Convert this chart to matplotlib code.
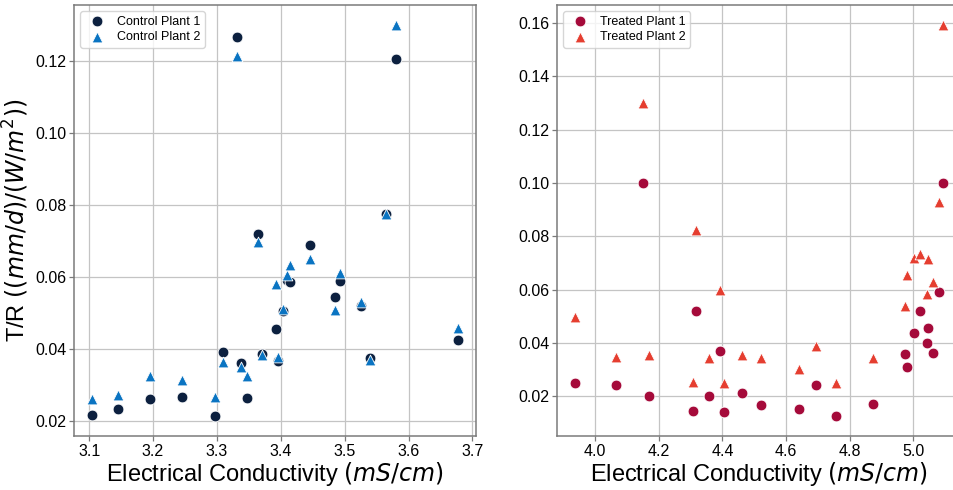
import matplotlib.pyplot as plt

plt.rcParams['font.family'] = ['Liberation Sans', 'DejaVu Sans']
plt.rcParams['mathtext.fontset'] = 'dejavusans'

# control plants share the same EC readings
control_ec = [3.105, 3.145, 3.195, 3.246, 3.297, 3.309, 3.332, 3.337, 3.347, 3.365,
              3.370, 3.392, 3.395, 3.404, 3.410, 3.414, 3.445, 3.485, 3.493, 3.525,
              3.540, 3.565, 3.581, 3.677]
control_1 = [0.0219, 0.0235, 0.0262, 0.0269, 0.0214, 0.0392, 0.1265, 0.0362, 0.0265, 0.0719,
             0.0387, 0.0457, 0.0367, 0.0507, 0.0592, 0.0587, 0.0690, 0.0544, 0.0589, 0.0521,
             0.0375, 0.0774, 0.1206, 0.0426]
control_2 = [0.0262, 0.0272, 0.0325, 0.0316, 0.0268, 0.0365, 0.1212, 0.0350, 0.0325, 0.0697,
             0.0383, 0.0582, 0.0378, 0.0513, 0.0605, 0.0635, 0.0651, 0.0510, 0.0612, 0.0532,
             0.0371, 0.0775, 0.1300, 0.0460]

# treated plants
treated_ec = [3.938, 4.067, 4.150, 4.168, 4.307, 4.317, 4.359, 4.392, 4.405, 4.462,
              4.522, 4.639, 4.695, 4.757, 4.873, 4.975, 4.981, 5.002, 5.021, 5.042,
              5.046, 5.061, 5.081, 5.092]
treated_1 = [0.0250, 0.0241, 0.1000, 0.0203, 0.0145, 0.0521, 0.0203, 0.0372, 0.0140, 0.0213,
             0.0166, 0.0154, 0.0244, 0.0125, 0.0173, 0.0359, 0.0310, 0.0438, 0.0521, 0.0399,
             0.0456, 0.0363, 0.0593, 0.1000]
treated_2 = [0.0498, 0.0346, 0.1300, 0.0357, 0.0253, 0.0825, 0.0343, 0.0600, 0.0250, 0.0355,
             0.0344, 0.0303, 0.0388, 0.0249, 0.0344, 0.0538, 0.0656, 0.0719, 0.0735, 0.0584,
             0.0715, 0.0629, 0.0929, 0.1594]


def style_axes(ax):
    ax.set_axisbelow(True)
    ax.grid(True, color='#c4c4c4', linewidth=0.9)
    for sp in ax.spines.values():
        sp.set_color('#7a7a7a')
        sp.set_linewidth(1.1)
    ax.tick_params(labelsize=11.5, length=3.5, width=0.9, color='#7a7a7a', pad=2)
    ax.set_xlabel('Electrical Conductivity $(mS/cm)$', fontsize=17, labelpad=1)


def add_legend(ax):
    ax.legend(loc='upper left', fontsize=9, frameon=True, borderpad=0.35,
              labelspacing=0.3, handletextpad=0.6)


fig = plt.figure(figsize=(9.54, 4.9), dpi=100)
ax1 = fig.add_axes([0.0776, 0.1102, 0.4214, 0.8796])
ax2 = fig.add_axes([0.5839, 0.1102, 0.4235, 0.8796])

ax1.scatter(control_ec, control_1, s=60, marker='o', color='#0c203f',
            edgecolor='white', linewidth=0.6, label='Control Plant 1')
ax1.scatter(control_ec, control_2, s=60, marker='^', color='#0a74c2',
            edgecolor='white', linewidth=0.6, label='Control Plant 2')
style_axes(ax1)
ax1.set_xticks([3.1, 3.2, 3.3, 3.4, 3.5, 3.6, 3.7])
ax1.set_yticks([0.02, 0.04, 0.06, 0.08, 0.10, 0.12])
ax1.set_ylabel('T/R $((mm/d)/(W/m^2))$', fontsize=17)
ax1.yaxis.set_label_coords(-0.107, 0.5)
add_legend(ax1)

ax2.scatter(treated_ec, treated_1, s=60, marker='o', color='#a50a3a',
            edgecolor='white', linewidth=0.6, label='Treated Plant 1')
ax2.scatter(treated_ec, treated_2, s=60, marker='^', color='#e53e30',
            edgecolor='white', linewidth=0.6, label='Treated Plant 2')
style_axes(ax2)
ax2.set_xticks([4.0, 4.2, 4.4, 4.6, 4.8, 5.0])
ax2.set_yticks([0.02, 0.04, 0.06, 0.08, 0.10, 0.12, 0.14, 0.16])
add_legend(ax2)

fig.savefig('out.png', dpi=100)
